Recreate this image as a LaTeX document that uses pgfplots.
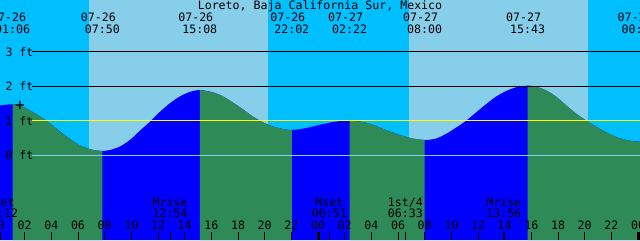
\documentclass[border=0pt]{standalone}
\usepackage{fontspec}
\setmainfont{DejaVu Sans Mono}
\usepackage{pgfplots}
\pgfplotsset{compat=1.18}
\definecolor{night}{HTML}{00BFFF}
\definecolor{day}{HTML}{87CEEB}
\definecolor{rise}{HTML}{0000FF}
\definecolor{fall}{HTML}{2E8B57}
\definecolor{zeroline}{HTML}{87CEEB}
\definecolor{meanline}{HTML}{FFFF00}
\begin{document}
\begin{tikzpicture}[font=\fontsize{11.6}{12}\selectfont]
\begin{axis}[width=640pt,height=240pt,scale only axis,hide axis,
  xmin=0.15,xmax=48.15,ymin=-2.455,ymax=4.501,
  every node/.style={inner sep=0pt}]
% night / day background
\addplot[fill=night,draw=none] coordinates {(0.15,-2.455) (48.15,-2.455) (48.15,4.501) (0.15,4.501)} -- cycle;
\addplot[fill=day,draw=none] coordinates {(6.825,-2.455) (20.25,-2.455) (20.25,4.501) (6.825,4.501)} -- cycle;
\addplot[fill=day,draw=none] coordinates {(30.825,-2.455) (44.25,-2.455) (44.25,4.501) (30.825,4.501)} -- cycle;
% full tide curve (rising colour)
\addplot[fill=rise,draw=none,smooth] coordinates {
(0.15,1.443) (0.6,1.466) (1.1,1.478) (1.65,1.44) (2.625,1.25) (3.525,1.03) (3.9,0.925)
(4.65,0.69) (5.4,0.47) (6.15,0.285) (6.825,0.185) (7.275,0.145) (7.833,0.125)
(8.4,0.154) (9.15,0.255) (9.9,0.447) (10.65,0.715) (11.4,0.975) (12.15,1.262)
(12.9,1.51) (13.65,1.708) (14.4,1.838) (15.133,1.893)
(16.125,1.822) (16.875,1.705) (17.625,1.525) (18.375,1.33) (19.125,1.12)
(19.875,0.955) (20.625,0.835) (21.375,0.762) (22.033,0.733)
(22.875,0.772) (23.625,0.835) (24.375,0.905) (25.125,0.963) (25.875,1.004) (26.367,1.014)
(27.375,0.962) (28.125,0.882) (28.875,0.765) (29.625,0.657) (30.375,0.56) (31.125,0.485) (32.0,0.443)
(32.85,0.485) (33.6,0.62) (34.35,0.80) (35.1,1.0) (35.85,1.24) (36.6,1.48) (37.35,1.70)
(38.1,1.86) (38.85,1.97) (39.717,2.017)
(40.35,1.99) (41.1,1.88) (41.85,1.70) (42.6,1.45) (43.35,1.21) (44.1,1.01) (44.85,0.83)
(45.6,0.665) (46.35,0.53) (47.1,0.445) (47.6,0.41) (48.15,0.394)
} -- (48.15,-2.455) -- (0.15,-2.455) -- cycle;
% falling segments
\addplot[fill=fall,draw=none,smooth] coordinates {
(1.1,1.478) (1.65,1.44) (2.625,1.25) (3.525,1.03) (3.9,0.925)
(4.65,0.69) (5.4,0.47) (6.15,0.285) (6.825,0.185) (7.275,0.145) (7.833,0.125)
} -- (7.833,-2.455) -- (1.1,-2.455) -- cycle;
\addplot[fill=fall,draw=none,smooth] coordinates {
(15.133,1.893) (16.125,1.822) (16.875,1.705) (17.625,1.525) (18.375,1.33) (19.125,1.12)
(19.875,0.955) (20.625,0.835) (21.375,0.762) (22.033,0.733)
} -- (22.033,-2.455) -- (15.133,-2.455) -- cycle;
\addplot[fill=fall,draw=none,smooth] coordinates {
(26.367,1.014) (27.375,0.962) (28.125,0.882) (28.875,0.765) (29.625,0.657) (30.375,0.56) (31.125,0.485) (32.0,0.443)
} -- (32.0,-2.455) -- (26.367,-2.455) -- cycle;
\addplot[fill=fall,draw=none,smooth] coordinates {
(39.717,2.017) (40.35,1.99) (41.1,1.88) (41.85,1.70) (42.6,1.45) (43.35,1.21) (44.1,1.01) (44.85,0.83)
(45.6,0.665) (46.35,0.53) (47.1,0.445) (47.6,0.41) (48.15,0.394)
} -- (48.15,-2.455) -- (39.717,-2.455) -- cycle;
% level lines
\addplot[black,line width=1pt] coordinates {(2.55,3) (48.15,3)};
\addplot[black,line width=1pt] coordinates {(2.55,2) (48.15,2)};
\addplot[meanline,line width=1.2pt] coordinates {(2.55,1) (48.15,1)};
\addplot[zeroline,line width=1pt] coordinates {(2.55,0) (48.15,0)};
\node[anchor=west] at (axis cs:0.3,3) {3 ft};
\node[anchor=west] at (axis cs:0.3,2) {2 ft};
\node[anchor=west] at (axis cs:0.3,1) {1 ft};
\node[anchor=west] at (axis cs:0.3,0) {0 ft};
\node[font=\fontsize{16}{16}\selectfont] at (axis cs:1.65,1.43) {+};
% title
\node[anchor=base] at (axis cs:24.15,4.226) {Loreto, Baja California Sur, Mexico};
% tide events
\node[anchor=base,xshift=-4pt] at (axis cs:1.1,3.864) {07-26};
\node[anchor=base] at (axis cs:1.1,3.516) {01:06};
\node[anchor=base,xshift=-4pt] at (axis cs:7.833,3.864) {07-26};
\node[anchor=base] at (axis cs:7.833,3.516) {07:50};
\node[anchor=base,xshift=-4pt] at (axis cs:15.133,3.864) {07-26};
\node[anchor=base] at (axis cs:15.133,3.516) {15:08};
\node[anchor=base,xshift=-4pt] at (axis cs:22.033,3.864) {07-26};
\node[anchor=base] at (axis cs:22.033,3.516) {22:02};
\node[anchor=base,xshift=-4pt] at (axis cs:26.367,3.864) {07-27};
\node[anchor=base] at (axis cs:26.367,3.516) {02:22};
\node[anchor=base,xshift=-4pt] at (axis cs:32.0,3.864) {07-27};
\node[anchor=base] at (axis cs:32.0,3.516) {08:00};
\node[anchor=base,xshift=-4pt] at (axis cs:39.717,3.864) {07-27};
\node[anchor=base] at (axis cs:39.717,3.516) {15:43};
\node[anchor=base,xshift=-4pt] at (axis cs:48.083,3.864) {07-28};
\node[anchor=base] at (axis cs:48.083,3.516) {00:05};
% moon events
\node[anchor=base] at (axis cs:0.2,-1.470) {Mset};
\node[anchor=base] at (axis cs:0.2,-1.817) {00:12};
\node[anchor=base] at (axis cs:12.9,-1.470) {Mrise};
\node[anchor=base] at (axis cs:12.9,-1.817) {12:54};
\node[anchor=base] at (axis cs:24.85,-1.470) {Mset};
\node[anchor=base] at (axis cs:24.85,-1.817) {00:51};
\node[anchor=base] at (axis cs:30.55,-1.470) {1st/4};
\node[anchor=base] at (axis cs:30.55,-1.817) {06:33};
\node[anchor=base] at (axis cs:37.933,-1.470) {Mrise};
\node[anchor=base] at (axis cs:37.933,-1.817) {13:56};
% hour labels
\node[anchor=base] at (axis cs:0,-2.151) {00};
\node[anchor=base] at (axis cs:2,-2.151) {02};
\node[anchor=base] at (axis cs:4,-2.151) {04};
\node[anchor=base] at (axis cs:6,-2.151) {06};
\node[anchor=base] at (axis cs:8,-2.151) {08};
\node[anchor=base] at (axis cs:10,-2.151) {10};
\node[anchor=base] at (axis cs:12,-2.151) {12};
\node[anchor=base] at (axis cs:14,-2.151) {14};
\node[anchor=base] at (axis cs:16,-2.151) {16};
\node[anchor=base] at (axis cs:18,-2.151) {18};
\node[anchor=base] at (axis cs:20,-2.151) {20};
\node[anchor=base] at (axis cs:22,-2.151) {22};
\node[anchor=base] at (axis cs:24,-2.151) {00};
\node[anchor=base] at (axis cs:26,-2.151) {02};
\node[anchor=base] at (axis cs:28,-2.151) {04};
\node[anchor=base] at (axis cs:30,-2.151) {06};
\node[anchor=base] at (axis cs:32,-2.151) {08};
\node[anchor=base] at (axis cs:34,-2.151) {10};
\node[anchor=base] at (axis cs:36,-2.151) {12};
\node[anchor=base] at (axis cs:38,-2.151) {14};
\node[anchor=base] at (axis cs:40,-2.151) {16};
\node[anchor=base] at (axis cs:42,-2.151) {18};
\node[anchor=base] at (axis cs:44,-2.151) {20};
\node[anchor=base] at (axis cs:46,-2.151) {22};
\node[anchor=base] at (axis cs:48,-2.151) {00};
% ticks
\pgfplotsinvokeforeach{2,4,6,8,10,12,14,16,18,20,22,26,28,30,32,34,36,38,40,42,44,46,0.2,12.9,24.85,30.55,37.933}{
  \draw[black,line width=1pt] (axis cs:#1,-2.223) -- (axis cs:#1,-2.455);
}
\pgfplotsinvokeforeach{24,48}{
  \draw[black,line width=3pt] (axis cs:#1,-2.223) -- (axis cs:#1,-2.455);
}
\coordinate (SW) at (rel axis cs:0,0);
\coordinate (NE) at (rel axis cs:1,1);
\end{axis}
\pgfresetboundingbox
\path[use as bounding box] (SW) rectangle (NE);
\end{tikzpicture}
\end{document}
